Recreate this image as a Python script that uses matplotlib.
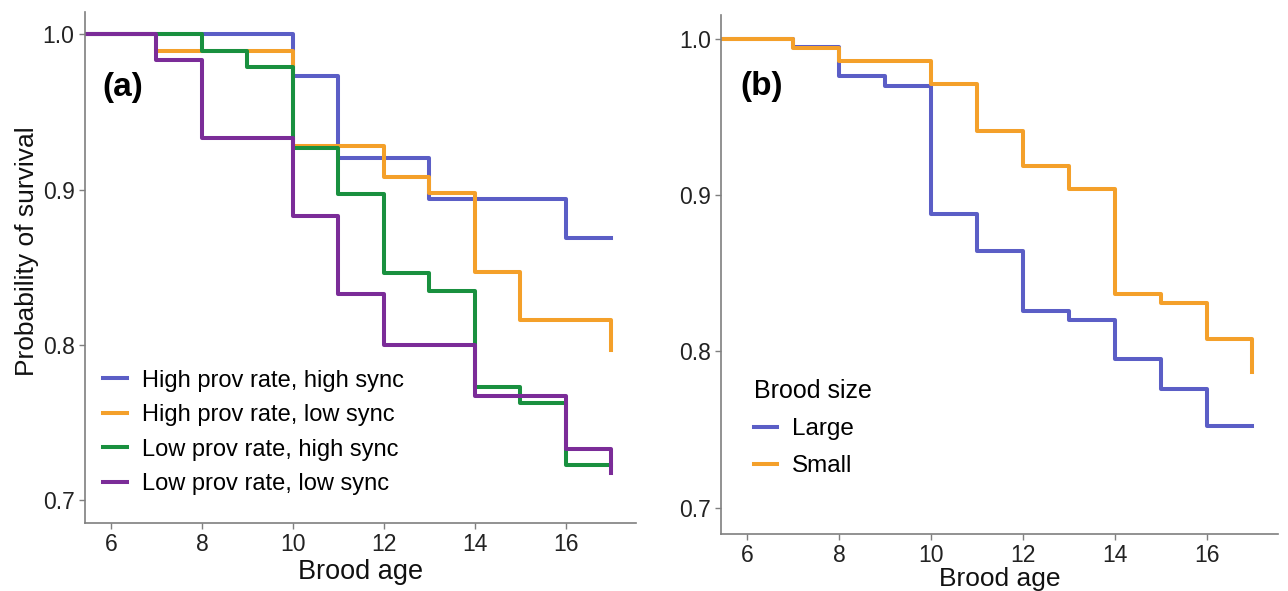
import matplotlib
matplotlib.use("Agg")
import matplotlib.pyplot as plt

plt.rcParams['font.family'] = ['Liberation Sans', 'DejaVu Sans']

# panel (a): survival by provisioning rate x synchrony
a_labels = ["High prov rate, high sync", "High prov rate, low sync",
            "Low prov rate, high sync", "Low prov rate, low sync"]
a_colors = ["#5b5ec6", "#f4a02a", "#19903f", "#7b2c98"]
a_times = [
    [5, 10, 11, 13, 16],
    [5, 7, 10, 12, 13, 14, 15, 17],
    [5, 8, 9, 10, 11, 12, 13, 14, 15, 16],
    [5, 7, 8, 10, 11, 12, 14, 16, 17],
]
a_surv = [
    [1.0, 0.973, 0.920, 0.894, 0.869],
    [1.0, 0.989, 0.928, 0.908, 0.898, 0.847, 0.816, 0.797],
    [1.0, 0.989, 0.979, 0.927, 0.897, 0.846, 0.835, 0.773, 0.763, 0.723],
    [1.0, 0.983, 0.933, 0.883, 0.833, 0.800, 0.767, 0.733, 0.718],
]

# panel (b): survival by brood size
b_labels = ["Large", "Small"]
b_colors = ["#5b5ec6", "#f4a02a"]
b_times = [
    [5, 7, 8, 9, 10, 11, 12, 13, 14, 15, 16],
    [5, 7, 8, 10, 11, 12, 13, 14, 15, 16, 17],
]
b_surv = [
    [1.0, 0.995, 0.976, 0.970, 0.888, 0.864, 0.826, 0.820, 0.795, 0.776, 0.752],
    [1.0, 0.994, 0.986, 0.971, 0.941, 0.919, 0.904, 0.837, 0.831, 0.808, 0.787],
]

x_ticks = [6, 8, 10, 12, 14, 16]
y_ticks = [0.7, 0.8, 0.9, 1.0]
end_age = 17
spine_col = "#7f7f7f"


def style_axes(ax, ylim, xpad=2, xsize=19.5):
    ax.set_xlim(5.43, 17.55)
    ax.set_ylim(*ylim)
    ax.set_xticks(x_ticks)
    ax.set_yticks(y_ticks)
    ax.set_yticklabels([f"{v:.1f}" for v in y_ticks])
    for side in ("top", "right"):
        ax.spines[side].set_visible(False)
    for side in ("left", "bottom"):
        ax.spines[side].set_color(spine_col)
        ax.spines[side].set_linewidth(1.2)
    ax.tick_params(labelsize=16.5, colors=spine_col, labelcolor="#222222",
                   length=4, width=1)
    ax.set_xlabel("Brood age", fontsize=xsize, color="#111111", labelpad=xpad)


def draw_steps(ax, times, surv, colors, labels):
    for t, s, c, lab in zip(times, surv, colors, labels):
        ax.step(t + [end_age], s + [s[-1]], where="post", color=c,
                lw=2.9, label=lab, clip_on=True)


fig = plt.figure(figsize=(12.88, 5.91), dpi=100)
ax_a = fig.add_axes([0.066, 0.115, 0.428, 0.864])
ax_b = fig.add_axes([0.560, 0.097, 0.432, 0.878])

draw_steps(ax_a, a_times, a_surv, a_colors, a_labels)
style_axes(ax_a, (0.6855, 1.0139))
ax_a.set_ylabel("Probability of survival", fontsize=19, color="#111111")
ax_a.yaxis.set_label_coords(-0.0835, 0.533)
ax_a.text(0.032, 0.8535, "(a)", transform=ax_a.transAxes, fontsize=24,
          fontweight="bold", va="center", ha="left")
leg_a = ax_a.legend(loc="upper left", bbox_to_anchor=(0.0335, 0.3006), frameon=False,
                    fontsize=17, handlelength=0.98, handletextpad=0.64,
                    labelspacing=0.53, borderpad=0, borderaxespad=0)

draw_steps(ax_b, b_times, b_surv, b_colors, b_labels)
style_axes(ax_b, (0.6834, 1.0155), xpad=0, xsize=19)
ax_b.text(0.035, 0.862, "(b)", transform=ax_b.transAxes, fontsize=24,
          fontweight="bold", va="center", ha="left")
leg_b = ax_b.legend(loc="upper left", bbox_to_anchor=(0.058, 0.298), frameon=False,
                    fontsize=17.5, title="Brood size", title_fontsize=18,
                    alignment="left", handlelength=0.95, handletextpad=0.64,
                    labelspacing=0.62, borderpad=0, borderaxespad=0)

fig.savefig("out.png", dpi=100)
